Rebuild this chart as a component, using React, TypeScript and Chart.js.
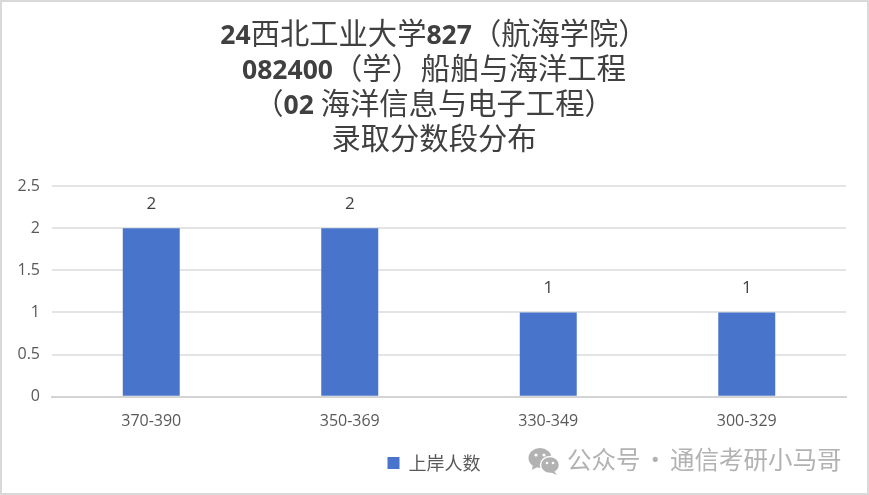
import React, { useEffect, useRef } from "react";
import { Chart, registerables } from "chart.js";

Chart.register(...registerables);

const titleLines = [
  "24西北工业大学827（航海学院）",
  "082400（学）船舶与海洋工程",
  "（02 海洋信息与电子工程）",
  "录取分数段分布",
];
const categories = ["370-390", "350-369", "330-349", "300-329"];
const seriesName = "上岸人数";
const seriesValues = [2, 2, 1, 1];
const watermark = "公众号 · 通信考研小马哥";

const CJK = '"Noto Sans CJK SC"';
const LATIN = '"Open Sans"';

const titlePlugin = {
  id: "mixedTitle",
  afterDraw(chart: any) {
    const { ctx } = chart;
    ctx.save();
    ctx.textBaseline = "alphabetic";
    ctx.textAlign = "left";
    ctx.fillStyle = "#404040";
    titleLines.forEach((line, i) => {
      const runs = line.match(/[\x00-\x7f]+|[^\x00-\x7f]+/g) || [];
      const fontFor = (r: string) =>
        /^[\x00-\x7f]/.test(r) ? `bold 26.5px ${LATIN}` : `400 29.3px ${CJK}`;
      let total = 0;
      runs.forEach((r) => {
        ctx.font = fontFor(r);
        total += ctx.measureText(r).width;
      });
      let x = 432 - total / 2;
      const y = 41.5 + i * 35.3;
      runs.forEach((r) => {
        ctx.font = fontFor(r);
        ctx.fillText(r, x, y);
        x += ctx.measureText(r).width;
      });
    });
    ctx.restore();
  },
};

const valueLabelPlugin = {
  id: "valueLabels",
  afterDatasetsDraw(chart: any) {
    const { ctx } = chart;
    const meta = chart.getDatasetMeta(0);
    ctx.save();
    ctx.font = `17px ${LATIN}`;
    ctx.fillStyle = "#404040";
    ctx.textAlign = "center";
    ctx.textBaseline = "middle";
    meta.data.forEach((bar: any, i: number) => {
      ctx.fillText(String(seriesValues[i]), bar.x, bar.y - 24.5);
    });
    ctx.restore();
  },
};

const legendShiftPlugin = {
  id: "legendShift",
  afterLayout(chart: any) {
    chart.legend.left += 10;
    chart.legend.right += 10;
  },
};

export default function App() {
  const ref = useRef<HTMLCanvasElement>(null);
  useEffect(() => {
    document.body.style.margin = "0";
    const chart = new Chart(ref.current as HTMLCanvasElement, {
      type: "bar",
      data: {
        labels: categories,
        datasets: [
          {
            label: seriesName,
            data: seriesValues,
            backgroundColor: "#4874CB",
            categoryPercentage: 1,
            barPercentage: 0.287,
          },
        ],
      },
      options: {
        animation: false,
        responsive: false,
        devicePixelRatio: 1,
        layout: { padding: { top: 184, left: 0, right: 21, bottom: 11 } },
        plugins: {
          title: { display: false },
          tooltip: { enabled: false },
          legend: {
            position: "bottom",
            labels: {
              boxWidth: 12,
              boxHeight: 12,
              color: "#595959",
              padding: 10,
              font: { family: CJK, size: 18 },
            },
          },
        },
        scales: {
          x: {
            afterFit(axis: any) {
              axis.height -= 2;
            },
            grid: { display: false, drawTicks: false },
            border: { color: "#d4d4d4", width: 2 },
            ticks: {
              color: "#595959",
              padding: 15,
              maxRotation: 0,
              font: { family: LATIN, size: 16 },
            },
          },
          y: {
            min: 0,
            max: 2.5,
            afterFit(axis: any) {
              axis.width = 50;
            },
            grid: { color: "#e4e4e4", lineWidth: 2, drawTicks: false },
            border: { display: false },
            ticks: {
              stepSize: 0.5,
              callback: (v: any) => String(v),
              color: "#595959",
              padding: 12,
              font: { family: LATIN, size: 16 },
            },
          },
        },
      },
      plugins: [titlePlugin, valueLabelPlugin, legendShiftPlugin],
    } as any);
    return () => chart.destroy();
  }, []);
  return (
    <div style={{ position: "relative", width: 869, height: 495, background: "#fff", overflow: "hidden" }}>
      <canvas ref={ref} width={865} height={491} style={{ position: "absolute", left: 2, top: 2 }} />
      <div style={{ position: "absolute", inset: 0, boxSizing: "border-box", borderStyle: "solid", borderColor: "#d9d9d9", borderWidth: 2, pointerEvents: "none" }} />
      <svg width="32" height="28" viewBox="0 0 32 28" style={{ position: "absolute", left: 528, top: 447 }}>
        <ellipse cx="12" cy="11" rx="11.5" ry="10" fill="#b2b2b2" />
        <path d="M5 17 L4 23 L11 19 Z" fill="#b2b2b2" />
        <ellipse cx="22" cy="18" rx="9.5" ry="8.5" fill="#b2b2b2" stroke="#fff" strokeWidth="1.5" />
        <path d="M26 24 L29 28 L22 25 Z" fill="#b2b2b2" />
        <circle cx="8" cy="8" r="1.6" fill="#fff" />
        <circle cx="16" cy="8" r="1.6" fill="#fff" />
        <circle cx="19" cy="16" r="1.3" fill="#fff" />
        <circle cx="25" cy="16" r="1.3" fill="#fff" />
      </svg>
      <div style={{ position: "absolute", left: 567, top: 442, fontFamily: CJK, fontSize: 24.5, wordSpacing: -3, lineHeight: "34px", color: "#b2b2b2", whiteSpace: "pre" }}>
        {watermark}
      </div>
    </div>
  );
}
